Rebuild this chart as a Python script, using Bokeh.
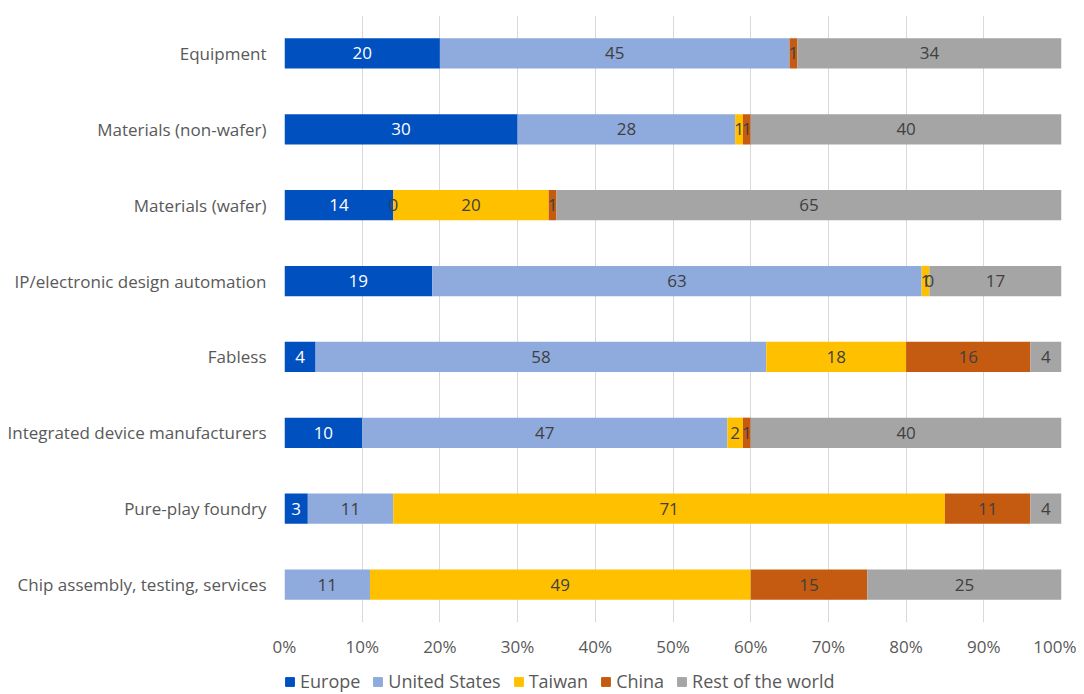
from bokeh.plotting import figure
from bokeh.layouts import column
from bokeh.models import ColumnDataSource, Legend, LegendItem, FixedTicker, CustomJSTickFormatter
from bokeh.core.properties import value
from bokeh.embed import file_html
from bokeh.resources import INLINE

categories = ["Equipment", "Materials (non-wafer)", "Materials (wafer)",
              "IP/electronic design automation", "Fabless",
              "Integrated device manufacturers", "Pure-play foundry",
              "Chip assembly, testing, services"]
series = ["Europe", "United States", "Taiwan", "China", "Rest of the world"]
europe = [20, 30, 14, 19, 4, 10, 3, None]
united_states = [45, 28, 0, 63, 58, 47, 11, 11]
taiwan = [None, 1, 20, 1, 18, 2, 71, 49]
china = [1, 1, 1, 0, 16, 1, 11, 15]
rest = [34, 40, 65, 17, 4, 40, 4, 25]
colors = ["#0050BF", "#8FAADC", "#FFC000", "#C55A11", "#A5A5A5"]
label_colors = ["#FFFFFF", "#404040", "#404040", "#404040", "#404040"]
ticks = [0, 10, 20, 30, 40, 50, 60, 70, 80, 90, 100]

allvals = [europe, united_states, taiwan, china, rest]

p = figure(width=1076, height=667, output_backend="svg", toolbar_location=None,
           y_range=list(reversed(categories)), x_range=(0, 100),
           frame_width=777, frame_height=607, min_border_left=284,
           min_border_top=15, min_border_right=15, min_border_bottom=45)

data = {"cat": categories}
for name, vals in zip(series, allvals):
    data[name] = [v if v is not None else 0 for v in vals]
src = ColumnDataSource(data)
renderers = p.hbar_stack(series, y="cat", height=0.4, color=colors, source=src,
                         line_width=0)

# data labels
for i, (name, vals) in enumerate(zip(series, allvals)):
    xs, ys, ts = [], [], []
    for j, c in enumerate(categories):
        if vals[j] is None:
            continue
        left = sum((allvals[k][j] or 0) for k in range(i))
        xs.append(left + vals[j] / 2)
        ys.append(c)
        ts.append(str(vals[j]))
    p.text(x=xs, y=ys, text=ts, text_align="center", text_baseline="middle",
           text_font=value("Open Sans"), text_font_size="17px",
           text_color=label_colors[i])

p.xaxis.ticker = FixedTicker(ticks=ticks)
p.xaxis.formatter = CustomJSTickFormatter(code="return tick + '%';")

for ax in (p.xaxis, p.yaxis):
    ax.axis_line_color = None
    ax.major_tick_line_color = None
    ax.minor_tick_line_color = None
    ax.major_label_text_font = "Open Sans"
    ax.major_label_text_font_size = "17px"
    ax.major_label_text_color = "#595959"
p.xaxis.major_label_standoff = 6
p.yaxis.major_label_standoff = 12

p.xgrid.grid_line_color = "#D9D9D9"
p.xgrid.ticker = FixedTicker(ticks=ticks)
p.ygrid.grid_line_color = None
p.outline_line_color = None

# legend strip below the chart
lg = figure(width=1076, height=26, output_backend="svg", toolbar_location=None,
            x_range=(0, 1), y_range=(0, 1), min_border=0)
lg.axis.visible = False
lg.grid.visible = False
lg.outline_line_color = None
dummies = [lg.rect(x=[-5], y=[-5], width=1, height=1, color=c) for c in colors]
legend = Legend(items=[LegendItem(label=s, renderers=[r]) for s, r in zip(series, dummies)],
                orientation="horizontal", location=(0, 0),
                label_text_font="Open Sans", label_text_font_size="18px",
                label_text_color="#595959", glyph_width=11, glyph_height=11,
                spacing=12, label_standoff=5, border_line_color=None,
                background_fill_alpha=0, padding=0, margin=0)
lg.add_layout(legend, "center")

layout = column(p, lg, spacing=0)
open("out.html", "w").write(file_html(layout, INLINE))
